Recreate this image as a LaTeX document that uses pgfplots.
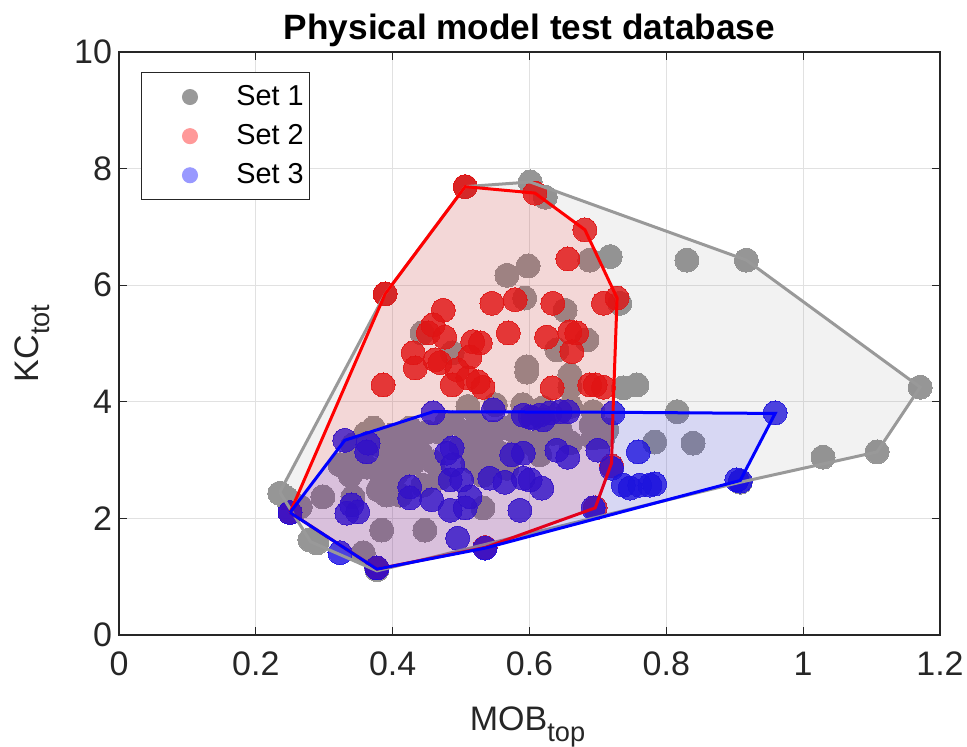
\documentclass[border=0pt]{standalone}
\usepackage{fontspec}
\setmainfont{Liberation Sans}
\usepackage{pgfplots}
\pgfplotsset{compat=1.18}

\definecolor{axisgray}{RGB}{38,38,38}
\definecolor{gridgray}{RGB}{225,225,225}
\definecolor{setone}{RGB}{150,150,150}
\definecolor{settwo}{RGB}{232,12,12}
\definecolor{setthree}{RGB}{22,10,228}
\definecolor{legone}{RGB}{153,153,153}
\definecolor{legtwo}{RGB}{255,153,153}
\definecolor{legthree}{RGB}{153,153,255}

\newcommand{\sub}[1]{\raisebox{-0.32em}{\fontsize{13.6}{15}\selectfont #1}}

\begin{document}
\begin{tikzpicture}
\begin{axis}[
  scale only axis,
  width=410.5pt, height=291.5pt,
  xmin=0, xmax=1.2, ymin=0, ymax=10,
  clip marker paths=true,
  xtick={0,0.2,0.4,0.6,0.8,1,1.2},
  ytick={0,2,4,6,8,10},
  xticklabel style={/pgf/number format/fixed,/pgf/number format/precision=1, yshift=-5pt},
  /pgf/number format/assume math mode=true,
  ticklabel style={font=\fontsize{17}{19}\selectfont, color=axisgray},
  grid=major,
  major grid style={gridgray, line width=0.5pt},
  tick align=inside,
  major tick length=4pt,
  tick style={axisgray, line width=0.5pt},
  axis line style={axisgray, line width=0.6pt},
  title={Physical model test database},
  title style={font=\bfseries\fontsize{17.6}{20}\selectfont, at={(0.5,1)}, anchor=base, yshift=0pt},
  xlabel={MOB\sub{top}},
  ylabel={KC\sub{tot}},
  label style={font=\fontsize{17}{19}\selectfont, color=axisgray},
  xlabel style={at={(axis description cs:0.5,0)}, anchor=base, yshift=-48pt, xshift=-1pt},
  ylabel style={at={(axis description cs:-0.0975,0.5)}, anchor=base, rotate=0},
  legend style={at={(0.0268,0.9657)}, anchor=north west, draw=axisgray,
    line width=0.5pt, fill=white, inner xsep=1pt, inner ysep=4.5pt,
    font=\fontsize{14.4}{17}\selectfont, cells={anchor=west}, row sep=4pt},
  legend image code/.code={\path (0pt,0pt) (44pt,0pt); \fill[#1] (23pt,0pt) circle (3.75pt);},
  every axis plot/.append style={mark options={line width=0pt}},
]

% legend entries
\addlegendimage{legone}
\addlegendentry{Set 1}
\addlegendimage{legtwo}
\addlegendentry{Set 2}
\addlegendimage{legthree}
\addlegendentry{Set 3}

% Set 1 tests
\addplot[only marks, mark=*, mark size=6pt, color=setone, forget plot] coordinates {
(0.601,7.77)(0.623,7.51)(0.567,6.17)(0.598,6.33)(0.688,6.43)(0.718,6.49)(0.830,6.43)(0.917,6.43)
(0.593,5.78)(0.443,5.18)(0.487,4.84)(0.596,4.60)(0.596,4.51)(0.640,4.89)(0.652,5.57)(0.684,5.06)
(0.659,4.46)(0.732,5.69)(0.737,4.24)(0.757,4.29)(0.816,3.83)(0.783,3.31)(0.839,3.29)(0.693,3.83)
(0.696,3.40)(0.708,3.40)(1.171,4.25)(1.108,3.14)(1.029,3.05)(0.659,4.25)
(0.389,5.85)(0.506,7.69)(0.908,2.62)(0.377,1.12)
(0.235,2.43)(0.245,2.35)(0.265,2.20)(0.279,1.63)(0.289,1.58)(0.298,2.37)(0.342,2.37)(0.357,1.41)
(0.384,1.80)(0.447,1.80)
(0.338,2.97)(0.338,2.74)(0.354,3.05)(0.381,3.26)(0.400,3.43)(0.425,3.55)(0.450,3.48)(0.411,3.14)
(0.440,3.14)(0.459,2.97)(0.384,2.71)(0.406,2.78)(0.379,2.49)(0.391,2.40)(0.411,2.40)(0.444,2.57)
(0.469,2.69)(0.469,3.48)(0.488,3.64)(0.342,3.26)(0.362,2.88)(0.415,2.88)(0.323,2.92)(0.360,3.45)
(0.395,3.00)(0.430,3.30)(0.372,3.55)(0.430,2.95)
(0.508,3.43)(0.523,3.60)(0.547,3.48)(0.567,3.55)(0.582,3.65)(0.532,3.21)(0.557,3.12)(0.615,3.09)
(0.620,3.43)(0.634,3.46)(0.517,2.97)(0.532,2.92)(0.567,2.86)(0.693,3.38)(0.532,2.74)(0.479,3.65)
(0.703,3.46)(0.713,3.52)(0.645,3.52)(0.576,3.12)(0.532,2.18)(0.510,3.92)(0.550,3.95)(0.590,3.95)
(0.620,3.90)(0.660,3.92)(0.500,3.25)(0.545,2.95)(0.600,3.30)(0.660,3.30)(0.690,3.60)(0.640,3.62)
(0.585,3.40)
};

% Set 2 tests
\addplot[only marks, mark=*, mark size=6pt, color=settwo, opacity=0.82, forget plot] coordinates {
(0.389,5.85)(0.386,4.29)(0.474,5.57)(0.459,5.32)(0.452,5.18)(0.476,5.11)(0.430,4.84)(0.433,4.58)
(0.462,4.72)(0.469,4.67)(0.494,4.55)(0.487,4.29)(0.510,4.41)(0.513,4.77)(0.517,5.03)(0.528,5.01)
(0.525,4.34)(0.532,4.25)(0.545,5.69)(0.569,5.18)(0.579,5.75)(0.634,5.69)(0.625,5.11)(0.633,4.24)
(0.506,7.69)(0.608,7.58)(0.681,6.95)(0.728,5.78)(0.656,6.45)(0.708,5.69)(0.659,5.20)(0.669,5.18)
(0.662,4.86)(0.688,4.29)(0.696,4.29)(0.708,4.25)
(0.250,2.10)(0.377,1.15)(0.535,1.50)(0.696,2.18)(0.720,2.90)
};

% Set 3 tests
\addplot[only marks, mark=*, mark size=6pt, color=setthree, opacity=0.8, forget plot] coordinates {
(0.330,3.34)(0.459,3.81)(0.364,3.29)(0.362,3.14)(0.487,3.21)(0.479,3.12)(0.488,2.92)(0.484,2.66)
(0.425,2.54)(0.425,2.35)(0.457,2.32)(0.484,2.14)(0.340,2.23)(0.333,2.09)(0.349,2.11)(0.495,1.66)
(0.323,1.41)(0.377,1.15)(0.250,2.10)
(0.547,3.86)(0.591,3.77)(0.601,3.74)(0.615,3.77)(0.630,3.81)(0.645,3.83)(0.656,3.83)(0.620,3.69)
(0.605,3.72)(0.591,3.12)(0.640,3.17)(0.656,3.05)(0.574,3.09)(0.501,2.66)(0.542,2.69)(0.564,2.62)
(0.591,2.69)(0.601,2.66)(0.618,2.52)(0.513,2.37)(0.506,2.18)(0.586,2.14)(0.535,1.49)(0.693,2.18)
(0.700,3.17)(0.722,3.81)(0.720,2.86)(0.759,3.14)(0.737,2.57)(0.747,2.52)(0.761,2.57)(0.776,2.57)
(0.783,2.59)(0.903,2.66)(0.908,2.64)(0.959,3.81)
};

% convex hulls, one per set
\addplot[draw=none, fill=black!50, fill opacity=0.1, forget plot] coordinates {
(0.235,2.45)(0.389,5.85)(0.506,7.69)(0.601,7.77)(0.917,6.43)(1.171,4.25)(1.108,3.14)(0.908,2.62)
(0.377,1.10)(0.280,1.60)(0.235,2.45)};
\addplot[black!40, line width=1.5pt, forget plot] coordinates {
(0.235,2.45)(0.389,5.85)(0.506,7.69)(0.601,7.77)(0.917,6.43)(1.171,4.25)(1.108,3.14)(0.908,2.62)
(0.377,1.10)(0.280,1.60)(0.235,2.45)};

\addplot[draw=none, fill=red, fill opacity=0.11, forget plot] coordinates {
(0.250,2.10)(0.389,5.85)(0.506,7.69)(0.608,7.58)(0.681,6.95)(0.728,5.78)(0.722,3.81)(0.720,2.95)
(0.696,2.18)(0.535,1.50)(0.377,1.13)(0.250,2.10)};
\addplot[red, line width=1.5pt, forget plot] coordinates {
(0.250,2.10)(0.389,5.85)(0.506,7.69)(0.608,7.58)(0.681,6.95)(0.728,5.78)(0.722,3.81)(0.720,2.95)
(0.696,2.18)(0.535,1.50)(0.377,1.13)(0.250,2.10)};

\addplot[draw=none, fill=blue, fill opacity=0.11, forget plot] coordinates {
(0.250,2.10)(0.330,3.34)(0.459,3.83)(0.722,3.82)(0.959,3.80)(0.908,2.65)(0.535,1.49)(0.377,1.13)
(0.250,2.10)};
\addplot[blue, line width=1.5pt, forget plot] coordinates {
(0.250,2.10)(0.330,3.34)(0.459,3.83)(0.722,3.82)(0.959,3.80)(0.908,2.65)(0.535,1.49)(0.377,1.13)
(0.250,2.10)};

\end{axis}
\pgfresetboundingbox
\useasboundingbox ([xshift=-59.5pt,yshift=-56pt]current axis.south west)
  rectangle ([xshift=13.5pt,yshift=26pt]current axis.north east);
\end{tikzpicture}
\end{document}
